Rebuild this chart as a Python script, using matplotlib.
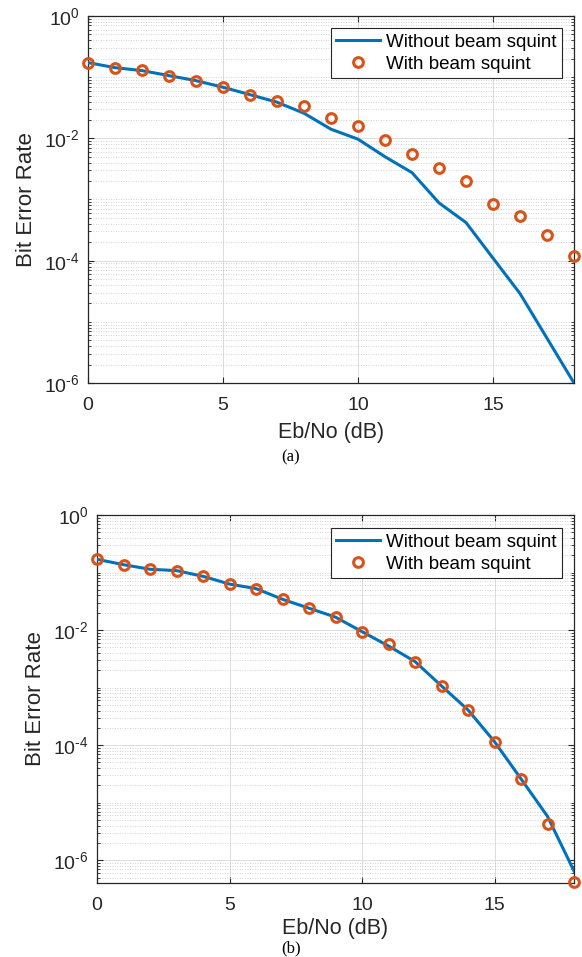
import numpy as np
import matplotlib
matplotlib.use("Agg")
import matplotlib.pyplot as plt
from matplotlib.ticker import FixedLocator, LogLocator, NullFormatter, FuncFormatter

plt.rcParams['font.family'] = ['Liberation Sans', 'DejaVu Sans']
plt.rcParams['mathtext.fontset'] = 'custom'
plt.rcParams['mathtext.rm'] = 'Liberation Sans'
plt.rcParams['mathtext.it'] = 'Liberation Sans:italic'
plt.rcParams['mathtext.default'] = 'regular'
plt.rcParams['axes.unicode_minus'] = False

# ---------------- data ----------------
ebno = list(range(0, 19))

a_without = [0.173, 0.143, 0.128, 0.106, 0.0877, 0.0684, 0.0518, 0.0390, 0.0257, 0.0141,
             0.0097, 0.0050, 0.00275, 0.00088, 0.00042, 0.00011, 2.9e-5, 5.4e-6, 1.0e-6]
a_with = [0.173, 0.143, 0.131, 0.106, 0.0877, 0.0684, 0.0518, 0.0413, 0.0338, 0.0216,
          0.0160, 0.0093, 0.0055, 0.0033, 0.0020, 0.00084, 0.00054, 0.00026, 0.00012]

b_without = [0.170, 0.137, 0.114, 0.108, 0.086, 0.063, 0.0526, 0.0343, 0.0240, 0.0168,
             0.0094, 0.0053, 0.00284, 0.00107, 0.00041, 0.000115, 2.6e-5, 5.8e-6, 6.5e-7]
b_with = [0.170, 0.137, 0.114, 0.108, 0.086, 0.063, 0.0526, 0.0343, 0.0240, 0.0168,
          0.0094, 0.0057, 0.00284, 0.00107, 0.00041, 0.000115, 2.6e-5, 4.2e-6, 4.2e-7]

y_major = [1e0, 1e-2, 1e-4, 1e-6]
x_major = [0, 5, 10, 15]
legend_labels = ['Without beam squint', 'With beam squint']
x_label = 'Eb/No (dB)'
y_label = 'Bit Error Rate'
panel_labels = ['(a)', '(b)']

BLUE = '#0072BD'
ORANGE = '#D95319'
DARK = '#262626'

fig = plt.figure(figsize=(5.82, 9.57), dpi=100)

W, H = 582.0, 957.0

def make_ax(left, top, right, bottom):
    return fig.add_axes([left / W, 1 - bottom / H, (right - left) / W, (bottom - top) / H])

def fmt(v, pos):
    e = int(round(np.log10(v)))
    return r'$10^{\text{%d}}$' % e

def style(ax, ylow, xlabelpad):
    ax.set_yscale('log')
    ax.set_xlim(0, 18)
    ax.set_ylim(ylow, 1)
    ax.yaxis.set_major_locator(FixedLocator(y_major))
    ax.yaxis.set_major_formatter(FuncFormatter(fmt))
    ax.yaxis.set_minor_locator(LogLocator(base=10, subs=np.arange(1, 10), numticks=100))
    ax.yaxis.set_minor_formatter(NullFormatter())
    ax.xaxis.set_major_locator(FixedLocator(x_major))
    ax.tick_params(which='both', direction='in', top=True, right=True, colors=DARK,
                   labelcolor=DARK)
    ax.tick_params(which='major', length=4.5, width=0.8, labelsize=14, pad=10)
    ax.tick_params(axis='y', which='major', pad=6)
    ax.tick_params(which='minor', length=2.2, width=0.6)
    ax.tick_params(axis='x', which='minor', bottom=False, top=False)
    for s in ax.spines.values():
        s.set_color(DARK)
        s.set_linewidth(0.9)
    ax.grid(True, which='major', color='#DCDCDC', linestyle='-', linewidth=0.7)
    ax.grid(True, which='minor', axis='y', color='#C4C4C4', linestyle=(0, (1, 2)), linewidth=0.6)
    ax.set_axisbelow(True)
    ax.set_xlabel(x_label, fontsize=15.5, color=DARK, labelpad=xlabelpad)
    ax.set_ylabel(y_label, fontsize=16, color=DARK, labelpad=5)

def draw(ax, without, with_, ylow, leg_right_px, leg_top_px, ax_w, ax_h, xlabelpad):
    style(ax, ylow, xlabelpad)
    ax.plot(ebno, without, color=BLUE, linewidth=2.2, label=legend_labels[0], zorder=3)
    ax.plot(ebno, with_, linestyle='none', marker='o', markersize=7, markerfacecolor='none',
            markeredgecolor=ORANGE, markeredgewidth=2.2, label=legend_labels[1],
            clip_on=False, zorder=4)
    leg = ax.legend(loc='upper right', bbox_to_anchor=(1 - leg_right_px / ax_w, 1 - leg_top_px / ax_h),
                    borderaxespad=0, fontsize=13.5, frameon=True, fancybox=False,
                    edgecolor=DARK, framealpha=1, handlelength=2.35, handletextpad=0.3,
                    borderpad=0.3, labelspacing=0.25)
    leg.get_frame().set_linewidth(0.8)
    for t in leg.get_texts():
        t.set_color('#000000')

ax1 = make_ax(88, 16, 574, 383)
draw(ax1, a_without, a_with, 1e-6, 12, 12, 486, 367, 5.5)

ax2 = make_ax(97, 515, 574, 882.7)
draw(ax2, b_without, b_with, 10 ** (-6.39), 12, 13, 477, 367.7, 3.0)

fig.text(291 / W, 1 - 457 / H, panel_labels[0], ha='center', va='center',
         fontsize=12, family=['Liberation Serif'], color='#000000')
fig.text(291 / W, 1 - 948.5 / H, panel_labels[1], ha='center', va='center',
         fontsize=12, family=['Liberation Serif'], color='#000000')

fig.savefig('out.png', dpi=100)
